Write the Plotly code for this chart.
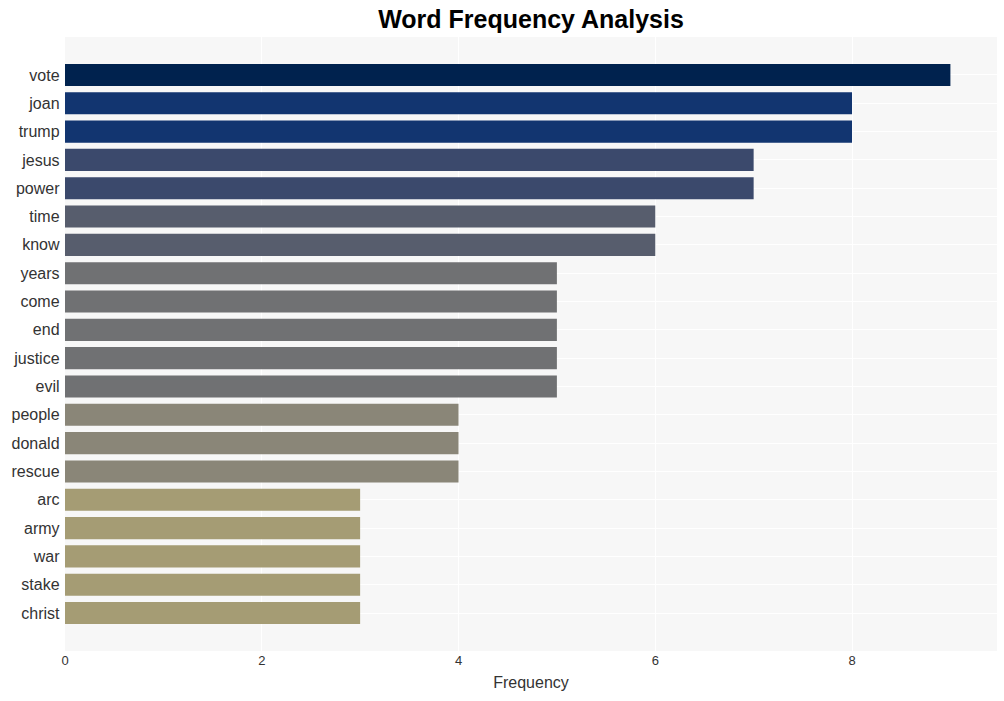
import plotly.graph_objects as go
import plotly.express as px

words = ["vote", "joan", "trump", "jesus", "power", "time", "know", "years", "come",
         "end", "justice", "evil", "people", "donald", "rescue", "arc", "army", "war",
         "stake", "christ"]
counts = [9, 8, 8, 7, 7, 6, 6, 5, 5, 5, 5, 5, 4, 4, 4, 3, 3, 3, 3, 3]

palette = px.colors.sequential.Cividis
top = max(counts)
colors = [palette[top - c] for c in counts]

fig = go.Figure(go.Bar(
    x=counts, y=words, orientation="h",
    marker=dict(color=colors, line=dict(width=0)),
))

n = len(words)
fig.update_layout(
    width=1004, height=701,
    margin=dict(l=65, r=7, t=37, b=50),
    paper_bgcolor="white",
    plot_bgcolor="#f7f7f7",
    bargap=0.22,
    showlegend=False,
    title=dict(text="<b>Word Frequency Analysis</b>", x=0.5, xref="paper", xanchor="center",
               y=0.972, yanchor="middle",
               font=dict(family="Arial, Liberation Sans", size=25, color="black")),
    font=dict(family="Arial, Liberation Sans", color="#333"),
    xaxis=dict(title=dict(text="Frequency", font=dict(size=16, color="#333"), standoff=9),
               tickfont=dict(size=13, color="#333"), gridcolor="white", gridwidth=1,
               zeroline=False, dtick=2),
    yaxis=dict(range=[n - 1 + 1.34, -1.34], tickfont=dict(size=16, color="#333"),
               gridcolor="white", ticksuffix=" "),
)

fig.write_html("out.html")
